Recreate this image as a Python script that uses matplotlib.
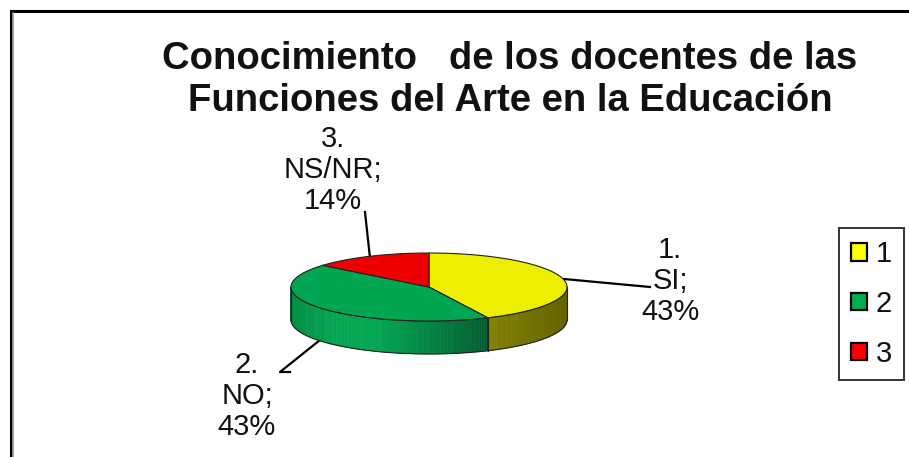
import matplotlib
matplotlib.use("Agg")
import matplotlib.pyplot as plt
import numpy as np
from matplotlib.patches import Polygon

plt.rcParams["font.family"] = ["Liberation Sans", "DejaVu Sans"]

TITLE = "Conocimiento   de los docentes de las\nFunciones del Arte en la Educación"
CATEGORIES = ["1", "2", "3"]
NAMES = ["1.\nSI;\n43%", "2.\nNO;\n43%", "3.\nNS/NR;\n14%"]
VALUES = [43, 43, 14]
TOP_COLORS = ["#EEEE00", "#00A651", "#EE0000"]
LEGEND_COLORS = ["#FFFF00", "#00B050", "#FF0000"]
TEXT = "#111111"

# pie geometry, in picture pixels
CX, CY = 429, 287
RX, RY = 138, 34
DEPTH = 33


def rim(angle):
    # angle in degrees, clockwise from 12 o'clock
    a = np.radians(angle)
    return CX + RX * np.sin(a), CY - RY * np.cos(a)


def mix(c1, c2, t):
    c1, c2 = np.array(matplotlib.colors.to_rgb(c1)), np.array(matplotlib.colors.to_rgb(c2))
    return tuple(c1 + (c2 - c1) * t)


def side_color(i, x):
    if i == 0:
        return mix("#808000", "#646400", (x - 487) / 80)
    if x < 340:
        return mix("#008F45", "#00A651", (x - 291) / 49)
    if x < 375:
        return "#00A651"
    return mix("#00A651", "#005C2E", (x - 375) / 112)


fig = plt.figure(figsize=(9.09, 4.57), dpi=100)
ax = fig.add_axes([0, 0, 1, 1])
ax.set_xlim(0, 909)
ax.set_ylim(457, 0)
ax.axis("off")

# frame of the picture
ax.plot([10.5, 10.5, 909], [457, 11, 11], color="black", lw=2.2, solid_joinstyle="miter", zorder=1)
ax.plot([13, 13], [13, 457], color="#999999", lw=1.2, zorder=1)

# leader lines
ax.plot([564, 650, 650], [279, 287, 287], color="black", lw=1.6, zorder=1)
ax.plot([320, 280, 290], [340, 372, 372], color="black", lw=1.6, zorder=1)
ax.plot([370, 365], [258, 212], color="black", lw=1.6, zorder=1)

# pie: sides first, then the top slices
edges = np.cumsum([0] + VALUES) * 3.6
for i in range(len(VALUES)):
    start, end = max(edges[i], 90), min(edges[i + 1], 270)
    if end <= start:
        continue
    angles = np.linspace(start, end, 160)
    for a0, a1 in zip(angles[:-1], angles[1:]):
        x0, y0 = rim(a0)
        x1, y1 = rim(a1)
        col = side_color(i, (x0 + x1) / 2)
        ax.add_patch(Polygon([(x0, y0), (x1, y1), (x1, y1 + DEPTH), (x0, y0 + DEPTH)],
                             facecolor=col, edgecolor=col, lw=0.4, zorder=2))
    xs, ys = rim(angles)
    ax.plot(np.r_[xs, xs[::-1]], np.r_[ys + DEPTH, ys[::-1]], color="#222222", lw=0.8, zorder=3)
    ax.plot([xs[0], xs[0]], [ys[0], ys[0] + DEPTH], color="#222222", lw=0.8, zorder=3)
    ax.plot([xs[-1], xs[-1]], [ys[-1], ys[-1] + DEPTH], color="#222222", lw=0.8, zorder=3)

for i in range(len(VALUES)):
    xs, ys = rim(np.linspace(edges[i], edges[i + 1], 120))
    ax.add_patch(Polygon(np.c_[np.r_[CX, xs], np.r_[CY, ys]], closed=True, facecolor=TOP_COLORS[i],
                         edgecolor="#222222", lw=0.8, joinstyle="round", zorder=4))

# text
ax.text(510, 80, TITLE, ha="center", va="center", fontsize=27.5, fontweight="bold",
        color=TEXT, linespacing=1.24)
label_pos = [(670, 281), (247, 396), (333, 170)]
for name, (x, y) in zip(NAMES, label_pos):
    ax.text(x, y, name, ha="center", va="center", fontsize=21, color=TEXT, linespacing=1.12)

# legend
handles = [plt.Rectangle((0, 0), 1, 1, facecolor=c, edgecolor="black", lw=1.6) for c in LEGEND_COLORS]
leg = ax.legend(handles, CATEGORIES, loc="center", bbox_to_anchor=(871.5, 304),
                bbox_transform=ax.transData, frameon=True, fancybox=False, framealpha=1,
                edgecolor="#333333", fontsize=21, handlelength=0.55, handleheight=0.55,
                handletextpad=0.3, labelspacing=0.75, borderpad=0.4, borderaxespad=0,
                labelcolor=TEXT)
leg.get_frame().set_linewidth(1.4)

fig.savefig("out.png", dpi=100)
